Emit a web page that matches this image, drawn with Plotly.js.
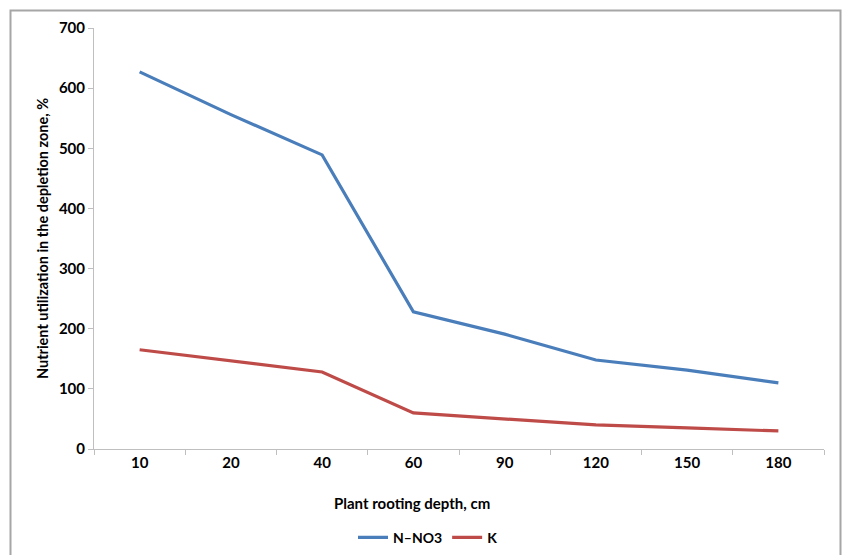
<!DOCTYPE html>
<html>
<head>
<meta charset="utf-8">
<script src="https://cdn.plot.ly/plotly-3.0.1.min.js"></script>
<style>html,body{margin:0;padding:0;background:#fff;}#chart{width:846px;height:555px;}</style>
</head>
<body>
<div id="chart"></div>
<script>
const depths = ["10", "20", "40", "60", "90", "120", "150", "180"];
const nNO3 = [627, 556, 489, 228, 191, 148, 131, 110];
const kVals = [165, 146, 128, 60, 50, 40, 35, 30];
const seriesNames = ["N\u2013NO3", "K"];
const yTicks = [0, 100, 200, 300, 400, 500, 600, 700];

const fontFam = "Lato, 'Open Sans', 'Liberation Sans', sans-serif";
const mk = (s) => ({family: fontFam, size: s, color: "#000", weight: "bold"});
const traces = [
  {x: depths, y: nNO3, name: seriesNames[0], type: "scatter", mode: "lines",
   line: {color: "#4A7EBB", width: 3.2}},
  {x: depths, y: kVals, name: seriesNames[1], type: "scatter", mode: "lines",
   line: {color: "#BE4B48", width: 3.2}}
];
const layout = {
  width: 846, height: 555,
  margin: {l: 94, r: 22, t: 28, b: 106},
  paper_bgcolor: "#fff", plot_bgcolor: "#fff",
  font: {family: fontFam, size: 14, color: "#000"},
  showlegend: true,
  legend: {orientation: "h", xref: "container", yref: "container",
           x: 428 / 846, xanchor: "center", y: 0.06, yanchor: "top",
           font: mk(14), itemwidth: 30, tracegroupgap: 0},
  xaxis: {
    type: "category", showgrid: false, zeroline: false,
    showline: true, linecolor: "#BFBFBF", linewidth: 1,
    ticks: "outside", ticklen: 5, tickcolor: "#BFBFBF", tickson: "boundaries",
    tickfont: mk(15), automargin: false,
    range: [-0.5, 7.5], fixedrange: true
  },
  yaxis: {
    range: [0, 700], tickvals: yTicks, showgrid: false, zeroline: false,
    showline: true, linecolor: "#BFBFBF", linewidth: 1,
    ticks: "outside", ticklen: 5, tickcolor: "#BFBFBF",
    tickfont: mk(15),
    title: {text: "Nutrient utilization in the depletion zone, %", standoff: 6, font: mk(14.5)},
    automargin: false
  },
  annotations: [
    {text: "Plant rooting depth, cm", xref: "paper", yref: "paper",
     x: (412 - 94) / 730, y: (449 - 503) / 421, xanchor: "center", yanchor: "middle",
     showarrow: false, font: mk(15)}
  ],
  shapes: [
    {type: "rect", xref: "paper", yref: "paper",
     x0: (10.5 - 94) / 730, x1: (840.5 - 94) / 730,
     y0: (449 - 570) / 421, y1: (449 - 10.5) / 421,
     line: {color: "#A6A6A6", width: 2}, fillcolor: "rgba(0,0,0,0)", layer: "below"}
  ]
};
Plotly.newPlot("chart", traces, layout, {staticPlot: true, displayModeBar: false});
</script>
</body>
</html>
